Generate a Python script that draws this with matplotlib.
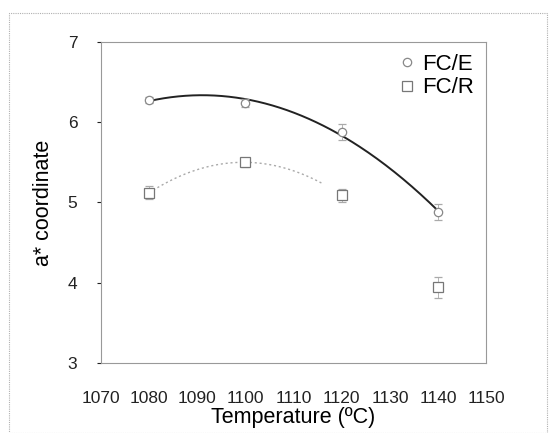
import numpy as np
import matplotlib
matplotlib.use("Agg")
import matplotlib.pyplot as plt
from matplotlib.patches import Rectangle

plt.rcParams["font.family"] = ["Liberation Sans", "DejaVu Sans"]

temps = [1080, 1100, 1120, 1140]
fce = [6.28, 6.24, 5.88, 4.88]
fce_err = [0.04, 0.05, 0.10, 0.10]
fcr = [5.12, 5.50, 5.09, 3.94]
fcr_err = [0.08, 0.06, 0.08, 0.13]

fig = plt.figure(figsize=(5.55, 4.33), dpi=100)
fig.patches.append(Rectangle((0.016, 0.0), 0.970, 0.970, transform=fig.transFigure,
                             fill=False, ec="#b0b0b0", lw=0.8, ls=(0, (1, 1))))
ax = fig.add_axes([0.182, 0.162, 0.694, 0.741])

# quadratic trend lines
t = np.linspace(1080, 1140, 200)
ax.plot(t, np.polyval(np.polyfit(temps, fce, 2), t), color="#222222", lw=1.4)
t2 = np.linspace(1080, 1116, 120)
ax.plot(t2, np.polyval(np.polyfit(temps[:3], fcr[:3], 2), t2), color="#aaaaaa",
        lw=1.0, ls=(0, (1.5, 2)))

ax.errorbar(temps, fce, yerr=fce_err, fmt="o", ms=6, mfc="white", mec="#888888",
            mew=0.9, ecolor="#aaaaaa", elinewidth=0.6, capsize=3, label="FC/E")
ax.errorbar(temps, fcr, yerr=fcr_err, fmt="s", ms=6.5, mfc="white", mec="#777777",
            mew=0.9, ecolor="#aaaaaa", elinewidth=0.6, capsize=3, label="FC/R")

ax.set_xlim(1070, 1150)
ax.set_ylim(3, 7)
ax.set_xticks(range(1070, 1151, 10))
ax.set_yticks(range(3, 8))
ax.tick_params(axis="x", length=0, pad=20, labelsize=12.5, colors="#222222")
ax.tick_params(axis="y", length=3, pad=14, labelsize=12.5, colors="#222222")
for s in ax.spines.values():
    s.set_color("#999999")
    s.set_linewidth(0.8)
ax.set_xlabel("Temperature (ºC)", fontsize=15.5, labelpad=1)
ax.set_ylabel("a* coordinate", fontsize=15.5, labelpad=10)

h, l = ax.get_legend_handles_labels()
ax.legend([x[0] for x in h], l, loc="upper right", frameon=False, fontsize=16,
          handletextpad=0.2, handlelength=1.0, borderaxespad=0.15, labelspacing=0.1)

fig.savefig("out.png", dpi=100)
